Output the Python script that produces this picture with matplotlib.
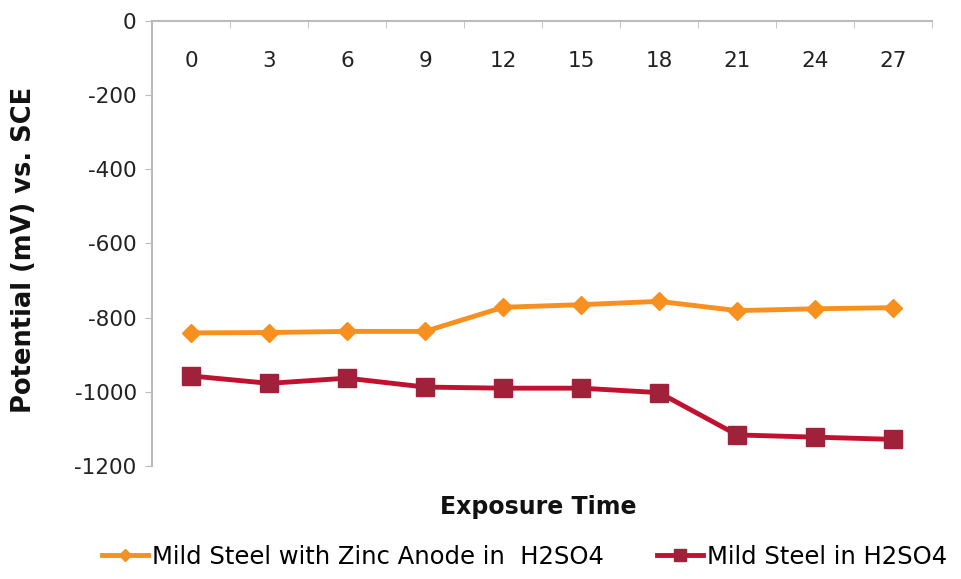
import matplotlib.pyplot as plt
import numpy as np

# exposure time categories and potentials (mV vs SCE)
times = ["0", "3", "6", "9", "12", "15", "18", "21", "24", "27"]
zinc_anode = [-841, -840, -837, -837, -772, -765, -756, -781, -776, -773]
mild_steel = [-957, -977, -963, -987, -990, -990, -1002, -1116, -1122, -1128]

plt.rcParams['font.family'] = ['DejaVu Sans']
plt.rcParams['axes.unicode_minus'] = False

fig = plt.figure(figsize=(9.62, 5.79), dpi=100)
ax = fig.add_axes([0.158, 0.195, 0.811, 0.769])

x = np.arange(len(times)) + 0.5

ax.plot(x, zinc_anode, color="#F7901E", lw=3.5, marker="D", ms=9.5,
        label="Mild Steel with Zinc Anode in  H2SO4")
ax.plot(x, mild_steel, color="#C0122F", lw=3.5, marker="s", ms=13,
        mfc="#A0213A", mec="#A0213A", label="Mild Steel in H2SO4")

ax.set_xlim(0, len(times))
ax.set_ylim(-1200, 0)
ax.set_yticks(np.arange(-1200, 1, 200))

# category labels sit just under the top (zero) line
ax.set_xticks(x)
ax.set_xticklabels(times)
ax.set_xticks(np.arange(0, len(times) + 1), minor=True)
ax.tick_params(axis="x", which="major", top=True, bottom=False, labeltop=True,
               labelbottom=False, length=0, pad=-36, labelsize=15.5, colors="#222222")
ax.tick_params(axis="x", which="minor", top=True, bottom=False, direction="in",
               length=5, color="#BBBBBB")
ax.tick_params(axis="y", direction="out", length=5, color="#BBBBBB",
               labelsize=15.5, labelcolor="#222222", pad=6)

for s in ["right", "bottom"]:
    ax.spines[s].set_visible(False)
for s in ["left", "top"]:
    ax.spines[s].set_color("#BBBBBB")
    ax.spines[s].set_linewidth(1.5)

fig.text(0.025, 0.568, "Potential (mV) vs. SCE", rotation=90, ha="center",
         va="center", fontsize=18.5, fontweight="bold", color="#111111")
fig.text(0.560, 0.124, "Exposure Time", ha="center", va="center",
         fontsize=17, fontweight="bold", color="#111111")

fig.legend(loc="center", bbox_to_anchor=(0.545, 0.038), ncol=2, frameon=False,
           fontsize=17.5, handlelength=1.9, handletextpad=0.15, columnspacing=2.2,
           markerscale=0.65)

fig.savefig("out.png", dpi=100)
